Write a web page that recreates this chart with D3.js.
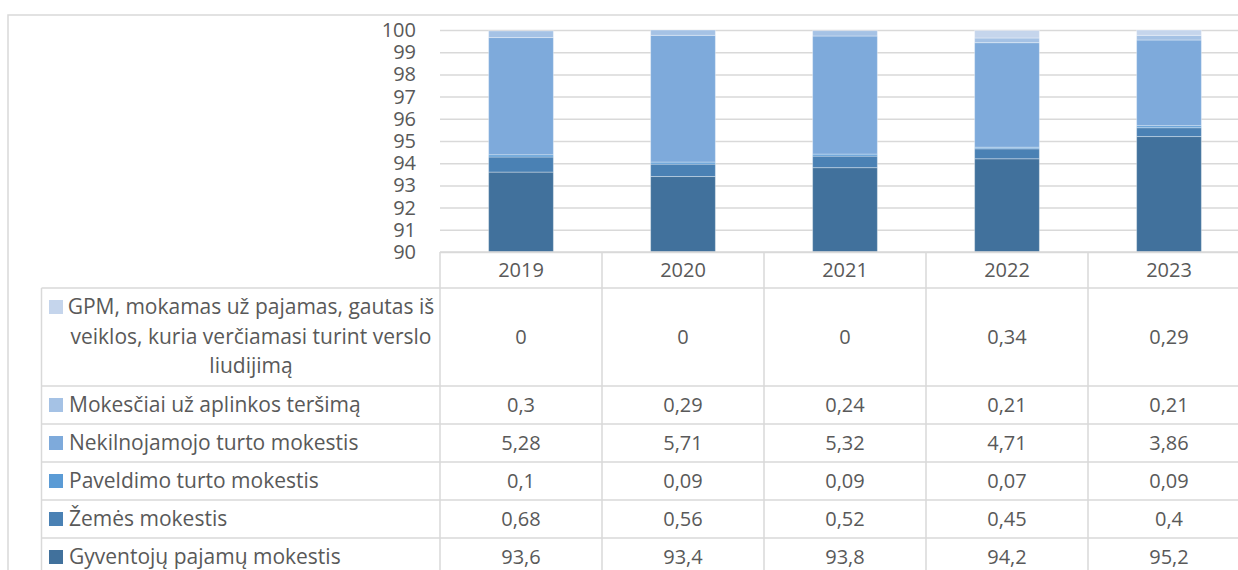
<!DOCTYPE html>
<html>
<head>
<meta charset="utf-8">
<script src="https://cdn.jsdelivr.net/npm/d3@7"></script>
<style>
  body { margin: 0; background: #fff; }
  text { font-family: "Open Sans", "Noto Sans", sans-serif; fill: #595959; }
</style>
</head>
<body>
<svg id="chart" width="1238" height="570"></svg>
<script>
// duomenys
const years = ["2019", "2020", "2021", "2022", "2023"];
const gyventojuPajamu = [93.6, 93.4, 93.8, 94.2, 95.2];
const zemes = [0.68, 0.56, 0.52, 0.45, 0.4];
const paveldimo = [0.1, 0.09, 0.09, 0.07, 0.09];
const nekilnojamojo = [5.28, 5.71, 5.32, 4.71, 3.86];
const aplinkosTersimas = [0.3, 0.29, 0.24, 0.21, 0.21];
const gpmVerslo = [0, 0, 0, 0.34, 0.29];
const yTicks = [90, 91, 92, 93, 94, 95, 96, 97, 98, 99, 100];

// serijos nuo apacios i virsu
const series = [
  { key: "Gyventojų pajamų mokestis", values: gyventojuPajamu, color: "#41719c" },
  { key: "Žemės mokestis", values: zemes, color: "#4a81b4" },
  { key: "Paveldimo turto mokestis", values: paveldimo, color: "#5b9bd5" },
  { key: "Nekilnojamojo turto mokestis", values: nekilnojamojo, color: "#7eaadb" },
  { key: "Mokesčiai už aplinkos teršimą", values: aplinkosTersimas, color: "#a5c2e5" },
  { key: "GPM, mokamas už pajamas, gautas iš veiklos, kuria verčiamasi turint verslo liudijimą",
    lines: ["GPM, mokamas už pajamas, gautas iš", "veiklos, kuria verčiamasi turint verslo", "liudijimą"],
    values: gpmVerslo, color: "#c5d5ec" }
];

const svg = d3.select("#chart");
const lineColor = "#d9d9d9";
const fontSize = 20;
const labelFont = 21;

const plot = { left: 440, right: 1250, top: 30, bottom: 252 };

// isorinis remelis
svg.append("rect")
  .attr("x", 8).attr("y", 15)
  .attr("width", 1300).attr("height", 600)
  .attr("fill", "none")
  .attr("stroke", lineColor)
  .attr("stroke-width", 1.5);

const x = d3.scaleBand()
  .domain(years)
  .range([plot.left, plot.right])
  .padding(0);

const y = d3.scaleLinear()
  .domain([90, 100])
  .range([plot.bottom, plot.top])
  .clamp(true);

// Y asis + tinklelis
const yAxis = svg.append("g")
  .attr("transform", `translate(${plot.left},0)`)
  .call(d3.axisLeft(y)
    .tickValues(yTicks)
    .tickSizeInner(-(plot.right - plot.left))
    .tickSizeOuter(0)
    .tickPadding(24)
    .tickFormat(d3.format("d")));
yAxis.select(".domain").remove();
yAxis.selectAll(".tick line").attr("stroke", lineColor).attr("stroke-width", 1.5);
yAxis.selectAll(".tick text")
  .attr("font-size", fontSize)
  .attr("fill", "#595959");

// stulpeliai
const table = years.map((yr, i) => {
  const row = { year: yr };
  series.forEach(s => { row[s.key] = s.values[i]; });
  return row;
});
const stacked = d3.stack().keys(series.map(s => s.key))(table);
const barW = x.bandwidth() * 0.4;

svg.append("g").selectAll("g")
  .data(stacked)
  .join("g")
    .attr("fill", (d, i) => series[i].color)
  .selectAll("rect")
  .data(d => d)
  .join("rect")
    .attr("x", d => x(d.data.year) + (x.bandwidth() - barW) / 2)
    .attr("y", d => y(d[1]))
    .attr("width", barW)
    .attr("height", d => Math.max(0, y(d[0]) - y(d[1])))
    .attr("stroke", "rgba(255,255,255,0.35)")
    .attr("stroke-width", 1);

// duomenu lentele
const tableRows = series.slice().reverse();
const headerTop = plot.bottom, headerBottom = 288;
const rowHeights = [98, 38, 38, 38, 38, 38];
const labelLeft = 41.5;
let rowTops = [];
let acc = headerBottom;
rowHeights.forEach(h => { rowTops.push(acc); acc += h; });

const tg = svg.append("g");

// horizontalios linijos
tg.append("line")
  .attr("x1", plot.left).attr("x2", plot.right)
  .attr("y1", headerTop).attr("y2", headerTop);
rowTops.forEach(t => {
  tg.append("line")
    .attr("x1", labelLeft).attr("x2", plot.right)
    .attr("y1", t).attr("y2", t);
});
// vertikalios linijos
tg.append("line")
  .attr("x1", labelLeft).attr("x2", labelLeft)
  .attr("y1", headerBottom).attr("y2", 600);
years.forEach(yr => {
  tg.append("line")
    .attr("x1", x(yr)).attr("x2", x(yr))
    .attr("y1", headerTop).attr("y2", 600);
});
tg.selectAll("line").attr("stroke", lineColor).attr("stroke-width", 1.5);

// metu antrastes
tg.selectAll("text.year")
  .data(years)
  .join("text")
    .attr("class", "year")
    .attr("x", d => x(d) + x.bandwidth() / 2)
    .attr("y", (headerTop + headerBottom) / 2)
    .attr("dy", "0.35em")
    .attr("text-anchor", "middle")
    .attr("font-size", fontSize)
    .text(d => d);

const fmt = v => String(v).replace(".", ",");

tableRows.forEach((s, r) => {
  const top = rowTops[r];
  const mid = top + rowHeights[r] / 2;
  const firstLineY = s.lines ? mid - 30 : mid;

  tg.append("rect")
    .attr("x", 49).attr("y", firstLineY - 7)
    .attr("width", 14).attr("height", 14)
    .attr("fill", s.color);

  if (s.lines) {
    s.lines.forEach((ln, k) => {
      tg.append("text")
        .attr("x", 251)
        .attr("y", firstLineY + k * 29.5)
        .attr("dy", "0.35em")
        .attr("text-anchor", "middle")
        .attr("font-size", labelFont)
        .text(ln);
    });
  } else {
    tg.append("text")
      .attr("x", 69)
      .attr("y", mid)
      .attr("dy", "0.35em")
      .attr("font-size", labelFont)
      .text(s.key);
  }

  s.values.forEach((v, i) => {
    tg.append("text")
      .attr("x", x(years[i]) + x.bandwidth() / 2)
      .attr("y", mid)
      .attr("dy", "0.35em")
      .attr("text-anchor", "middle")
      .attr("font-size", fontSize)
      .text(fmt(v));
  });
});
</script>
</body>
</html>
